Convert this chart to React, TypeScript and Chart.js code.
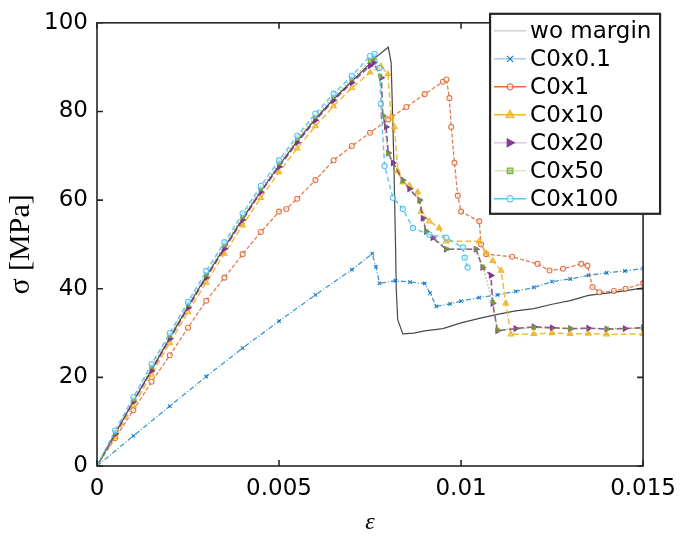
import React, { useEffect, useRef } from "react";
import { Chart, registerables } from "chart.js";

Chart.register(...registerables);

// ---- tick labels ----
const X_TICKS = [0, 0.005, 0.01, 0.015];
const Y_TICKS = [0, 20, 40, 60, 80, 100];

// ---- series names ----
const NAMES = ["wo margin", "C0x0.1", "C0x1", "C0x10", "C0x20", "C0x50", "C0x100"];

// ---- strain (x) / stress (y, MPa) values ----
const woMarginX = [0, 0.0005, 0.001, 0.0015, 0.002, 0.0025, 0.003, 0.0035, 0.004, 0.0045, 0.005, 0.0055, 0.006, 0.0065, 0.007, 0.0075, 0.0076, 0.008, 0.00808, 0.00815, 0.0082, 0.00822, 0.00826, 0.0084, 0.0087, 0.009, 0.0095, 0.01, 0.0105, 0.011, 0.0115, 0.012, 0.0125, 0.013, 0.0135, 0.014, 0.0145, 0.015];
const woMarginY = [0, 7.3, 14.6, 21.7, 28.9, 36, 42.8, 49.3, 55.8, 62, 67.8, 73.3, 78.3, 82.8, 86.8, 90.8, 91.8, 94.5, 91, 70, 50, 40, 33, 29.8, 30, 30.5, 31, 32.3, 33.3, 34.2, 35, 35.5, 36.5, 37.3, 38.5, 39, 39.5, 40.2];

const c01X = [0, 0.001, 0.002, 0.003, 0.004, 0.005, 0.006, 0.007, 0.00756, 0.00766, 0.00776, 0.0082, 0.0086, 0.009, 0.00915, 0.00932, 0.0097, 0.01, 0.0105, 0.011, 0.0115, 0.012, 0.0125, 0.013, 0.0135, 0.014, 0.0145, 0.015];
const c01Y = [0, 6.8, 13.5, 20.2, 26.6, 32.7, 38.6, 44.3, 47.9, 45, 41.2, 41.8, 41.5, 41.2, 39, 36, 36.6, 37.2, 38, 38.6, 39.4, 40.3, 41.6, 42.2, 43, 43.6, 44, 44.6];

const c1X = [0, 0.0005, 0.001, 0.0015, 0.002, 0.0025, 0.003, 0.0035, 0.004, 0.0045, 0.005, 0.0052, 0.0055, 0.006, 0.0065, 0.007, 0.0075, 0.008, 0.0085, 0.009, 0.0095, 0.0096, 0.00968, 0.00973, 0.00982, 0.00991, 0.01, 0.0105, 0.01055, 0.01069, 0.0114, 0.0121, 0.01243, 0.0128, 0.0133, 0.01347, 0.01361, 0.0138, 0.0142, 0.01452, 0.015];
const c1Y = [0, 6.3, 12.6, 19, 25, 31.2, 37.3, 42.5, 47.8, 52.8, 57.4, 58, 60.3, 64.5, 69, 72.2, 75.2, 78.2, 81, 83.9, 86.7, 87.2, 83, 76.5, 68.4, 61, 57.4, 55.2, 50, 47.8, 47.2, 45.6, 44.1, 44.5, 45.6, 45.2, 40.4, 39.2, 39.5, 40, 41.2];

const c10X = [0, 0.0005, 0.001, 0.0015, 0.002, 0.0025, 0.003, 0.0035, 0.004, 0.0045, 0.005, 0.0055, 0.006, 0.0065, 0.007, 0.0075, 0.0078, 0.00799, 0.00808, 0.00817, 0.00826, 0.0084, 0.00858, 0.00881, 0.0089, 0.00913, 0.0094, 0.00959, 0.0105, 0.01069, 0.01087, 0.0111, 0.01123, 0.01137, 0.012, 0.0125, 0.013, 0.0135, 0.014, 0.015];
const c10Y = [0, 6.6, 13.6, 20.6, 27.8, 34.7, 41.4, 47.9, 54.3, 60.5, 66.3, 71.7, 76.7, 81.2, 85.3, 88.8, 90.2, 88.4, 78.8, 76.5, 66.5, 64, 63.3, 61.8, 57.4, 55.2, 53.7, 50.7, 50.7, 48, 46.3, 44.1, 36.7, 29.7, 29.8, 30, 29.8, 29.9, 29.7, 29.8];

const c20X = [0, 0.0005, 0.001, 0.0015, 0.002, 0.0025, 0.003, 0.0035, 0.004, 0.0045, 0.005, 0.0055, 0.006, 0.0065, 0.007, 0.0075, 0.0076, 0.00781, 0.00785, 0.00794, 0.008, 0.00813, 0.0084, 0.00858, 0.00886, 0.00895, 0.00904, 0.00922, 0.00959, 0.01041, 0.01059, 0.01082, 0.01087, 0.011, 0.0115, 0.012, 0.0125, 0.013, 0.0135, 0.014, 0.0145, 0.015];
const c20Y = [0, 7.2, 14.5, 21.5, 28.7, 35.7, 42.5, 49, 55.5, 61.8, 67.5, 73, 78, 82.5, 86.5, 90.3, 91, 87.6, 79, 76.5, 70.6, 68.4, 64.5, 62.5, 60, 55.9, 52.9, 51.5, 48.9, 48.9, 44.8, 43, 36.7, 30.5, 31, 31.4, 31.2, 31, 31.1, 30.9, 31, 31.2];

const c50X = [0, 0.0005, 0.001, 0.0015, 0.002, 0.0025, 0.003, 0.0035, 0.004, 0.0045, 0.005, 0.0055, 0.006, 0.0065, 0.007, 0.0075, 0.0076, 0.00778, 0.00786, 0.008, 0.0084, 0.00886, 0.00904, 0.0096, 0.0104, 0.0106, 0.01087, 0.011, 0.012, 0.013, 0.014, 0.015];
const c50Y = [0, 7.6, 15, 22.3, 29.4, 36.4, 43.2, 49.8, 56.2, 62.5, 68.3, 73.8, 78.8, 83.3, 87.3, 91.4, 92, 88, 79, 70.5, 64.3, 60, 53, 49, 49, 45, 37, 30.7, 31.2, 31, 31, 31.1];

const c100X = [0, 0.0005, 0.001, 0.0015, 0.002, 0.0025, 0.003, 0.0035, 0.004, 0.0045, 0.005, 0.0055, 0.006, 0.0065, 0.007, 0.0075, 0.00762, 0.00776, 0.0078, 0.0079, 0.00813, 0.0084, 0.00868, 0.00913, 0.00959, 0.01005, 0.0101, 0.01018];
const c100Y = [0, 8, 15.5, 23, 30, 37, 44, 50.5, 57, 63.2, 69, 74.5, 79.5, 84, 88, 92.5, 93, 89.8, 81.7, 67.7, 60.5, 58, 53.7, 52.2, 51.5, 49.3, 47, 44.8];

const pts = (xs: number[], ys: number[]) => xs.map((x, i) => ({ x, y: ys[i] }));

type Style = {
  line: string;
  marker: string;
  legendLine: string;
  pointStyle: any;
  rotation?: number;
  radius: number;
  dash: number[];
  width: number;
  fill: string;
};

const STYLES: Style[] = [
  { line: "rgba(40,40,40,0.85)", marker: "rgba(40,40,40,0.85)", legendLine: "#d0d0d0", pointStyle: false, radius: 0, dash: [], width: 1.2, fill: "transparent" },
  { line: "rgba(0,114,189,0.75)", marker: "rgba(0,114,189,0.9)", legendLine: "#a9cde8", pointStyle: "crossRot", radius: 2.5, dash: [5, 2, 1, 2], width: 1.3, fill: "transparent" },
  { line: "rgba(217,83,25,0.75)", marker: "rgba(217,83,25,0.8)", legendLine: "#e8663a", pointStyle: "circle", radius: 2.5, dash: [4, 2], width: 1.3, fill: "rgba(255,255,255,0.6)" },
  { line: "rgba(237,177,32,0.85)", marker: "rgba(237,177,32,0.9)", legendLine: "#f0b828", pointStyle: "triangle", radius: 3.2, dash: [6, 3], width: 1.5, fill: "rgba(237,177,32,0.6)" },
  { line: "rgba(126,47,142,0.85)", marker: "rgba(126,47,142,0.95)", legendLine: "#dcc6e2", pointStyle: "triangle", rotation: 90, radius: 3, dash: [6, 3], width: 1.6, fill: "rgba(126,47,142,0.9)" },
  { line: "rgba(119,172,48,0.75)", marker: "rgba(119,172,48,0.9)", legendLine: "#d9e9c6", pointStyle: "rect", radius: 2.3, dash: [1.5, 2], width: 1.3, fill: "rgba(119,172,48,0.5)" },
  { line: "rgba(77,190,238,0.85)", marker: "rgba(77,190,238,0.9)", legendLine: "#5cc3ef", pointStyle: "circle", radius: 2.6, dash: [5, 3], width: 1.5, fill: "rgba(255,255,255,0.5)" },
];

const SERIES = [
  pts(woMarginX, woMarginY),
  pts(c01X, c01Y),
  pts(c1X, c1Y),
  pts(c10X, c10Y),
  pts(c20X, c20Y),
  pts(c50X, c50Y),
  pts(c100X, c100Y),
];

const TICK_FONT = { family: "DejaVu Sans", size: 23 };

function drawMarker(ctx: CanvasRenderingContext2D, s: Style, x: number, y: number) {
  if (!s.pointStyle) return;
  const r = s.radius + 0.5;
  ctx.save();
  ctx.strokeStyle = s.marker;
  ctx.fillStyle = s.fill;
  ctx.lineWidth = 1.2;
  ctx.setLineDash([]);
  ctx.translate(x, y);
  if (s.rotation) ctx.rotate((s.rotation * Math.PI) / 180);
  ctx.beginPath();
  if (s.pointStyle === "circle") {
    ctx.arc(0, 0, r, 0, Math.PI * 2);
    ctx.fill();
    ctx.stroke();
  } else if (s.pointStyle === "triangle") {
    ctx.moveTo(0, -r * 1.2);
    ctx.lineTo(r * 1.1, r * 0.8);
    ctx.lineTo(-r * 1.1, r * 0.8);
    ctx.closePath();
    ctx.fill();
    ctx.stroke();
  } else if (s.pointStyle === "rect") {
    ctx.rect(-r, -r, 2 * r, 2 * r);
    ctx.fill();
    ctx.stroke();
  } else if (s.pointStyle === "crossRot") {
    ctx.moveTo(-r, -r);
    ctx.lineTo(r, r);
    ctx.moveTo(r, -r);
    ctx.lineTo(-r, r);
    ctx.stroke();
  }
  ctx.restore();
}

const frameAndLegend = {
  id: "frameAndLegend",
  afterDraw(chart: any) {
    const { ctx, chartArea } = chart;
    const { left, right, top, bottom } = chartArea;
    const xs = chart.scales.x;
    const ys = chart.scales.y;
    ctx.save();
    // frame
    ctx.strokeStyle = "#262626";
    ctx.lineWidth = 1.6;
    ctx.setLineDash([]);
    ctx.strokeRect(left, top, right - left, bottom - top);
    // inward ticks
    const tl = 6;
    ctx.beginPath();
    X_TICKS.forEach((v) => {
      const px = xs.getPixelForValue(v);
      ctx.moveTo(px, bottom);
      ctx.lineTo(px, bottom - tl);
      ctx.moveTo(px, top);
      ctx.lineTo(px, top + tl);
    });
    Y_TICKS.forEach((v) => {
      const py = ys.getPixelForValue(v);
      ctx.moveTo(left, py);
      ctx.lineTo(left + tl, py);
      ctx.moveTo(right, py);
      ctx.lineTo(right - tl, py);
    });
    ctx.stroke();

    // legend box
    const bx = right - 153;
    const by = top - 9;
    const bw = 170;
    const bh = 200;
    ctx.fillStyle = "#ffffff";
    ctx.fillRect(bx, by, bw, bh);
    ctx.strokeStyle = "#262626";
    ctx.lineWidth = 2.2;
    ctx.strokeRect(bx, by, bw, bh);
    ctx.font = "23px 'DejaVu Sans'";
    ctx.textBaseline = "middle";
    ctx.textAlign = "left";
    NAMES.forEach((name, i) => {
      const s = STYLES[i];
      const cy = by + 17 + i * 28;
      ctx.strokeStyle = s.legendLine;
      ctx.lineWidth = 1.6;
      ctx.setLineDash([]);
      ctx.beginPath();
      ctx.moveTo(bx + 4, cy);
      ctx.lineTo(bx + 36, cy);
      ctx.stroke();
      drawMarker(ctx, s, bx + 20, cy);
      ctx.fillStyle = "#000";
      ctx.fillText(name, bx + 40, cy + 1);
    });
    ctx.restore();
  },
};

export default function App() {
  const ref = useRef<HTMLCanvasElement | null>(null);
  useEffect(() => {
    document.body.style.margin = "0";
    const canvas = ref.current;
    if (!canvas) return;
    const datasets = SERIES.map((data, i) => {
      const s = STYLES[i];
      return {
        label: NAMES[i],
        data,
        borderColor: s.line,
        borderWidth: s.width,
        borderDash: s.dash,
        pointStyle: s.pointStyle,
        pointRadius: s.radius,
        pointRotation: s.rotation || 0,
        pointBorderColor: s.marker,
        pointBackgroundColor: s.fill,
        pointBorderWidth: 1.1,
        fill: false,
        tension: 0,
        order: NAMES.length - 1 - i,
      };
    });
    const chart = new Chart(canvas, {
      type: "line",
      data: { datasets },
      options: {
        animation: false,
        responsive: false,
        devicePixelRatio: 1,
        layout: { padding: { top: 14, right: 41, left: 0, bottom: 0 } },
        plugins: { legend: { display: false }, tooltip: { enabled: false } },
        scales: {
          x: {
            type: "linear",
            min: 0,
            max: 0.015,
            afterBuildTicks: (s: any) => {
              s.ticks = X_TICKS.map((v) => ({ value: v }));
            },
            afterFit: (s: any) => {
              s.height = 71;
            },
            grid: { display: false, drawTicks: false },
            border: { display: false },
            ticks: {
              padding: 9,
              color: "#000",
              font: TICK_FONT,
              maxRotation: 0,
              autoSkip: false,
              callback: (v: any) => String(v),
            },
            title: {
              display: true,
              text: "ε",
              color: "#000",
              font: { family: "Liberation Serif", size: 24, style: "italic" },
              padding: { top: 0, bottom: 0 },
            },
          },
          y: {
            type: "linear",
            min: 0,
            max: 100,
            afterBuildTicks: (s: any) => {
              s.ticks = Y_TICKS.map((v) => ({ value: v }));
            },
            afterFit: (s: any) => {
              s.width = 97;
            },
            grid: { display: false, drawTicks: false },
            border: { display: false },
            ticks: {
              padding: 9,
              color: "#000",
              font: TICK_FONT,
              autoSkip: false,
              callback: (v: any) => String(v),
            },
            title: {
              display: true,
              text: "σ [MPa]",
              color: "#000",
              font: { family: "Liberation Serif", size: 30 },
              padding: { top: 3, bottom: 0 },
            },
          },
        },
      },
      plugins: [frameAndLegend],
    });
    return () => chart.destroy();
  }, []);
  return (
    <div style={{ width: 685, height: 537, position: "relative", background: "#fff" }}>
      <canvas ref={ref} width={685} height={537} style={{ display: "block" }} />
    </div>
  );
}
